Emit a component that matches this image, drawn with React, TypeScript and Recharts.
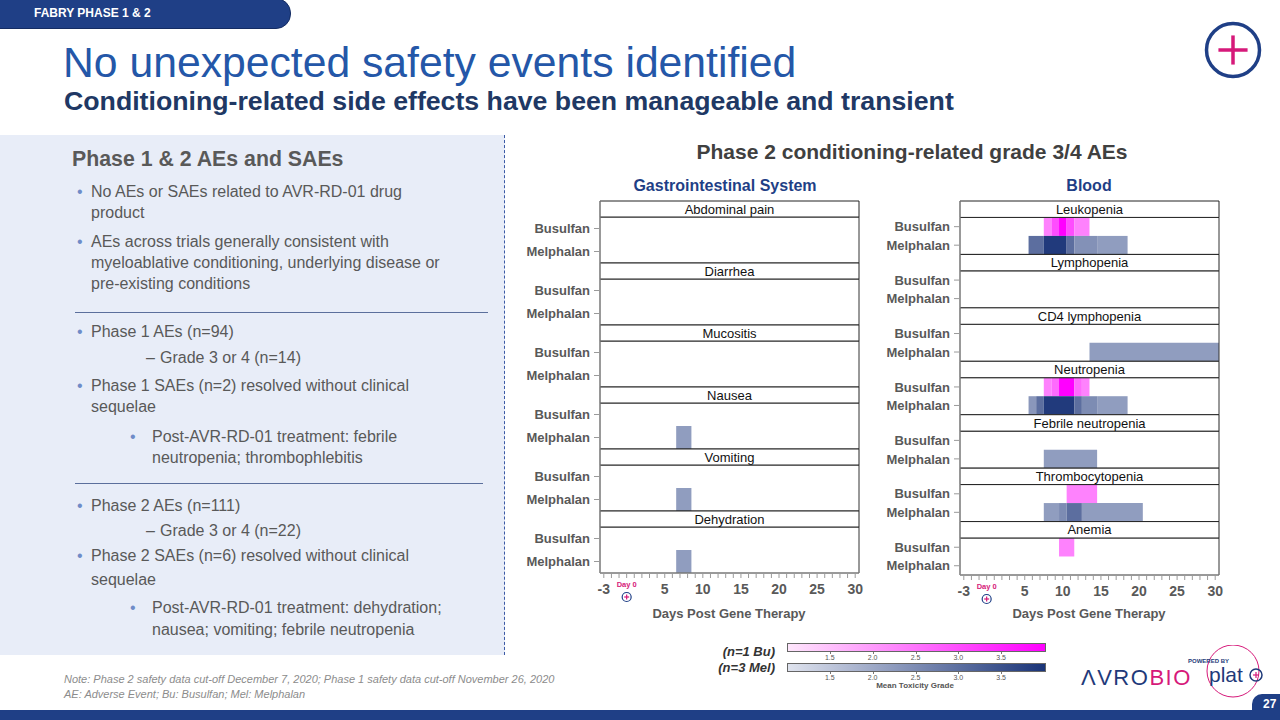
import React from 'react';
import { ComposedChart, XAxis, YAxis, ReferenceArea, Scatter } from 'recharts';

const FONT = 'Arial, "Liberation Sans", sans-serif';
const GRAY = '#595959';
const NAVY = '#1f3f86';
const PINK = '#d6197a';

// ---------- data ----------
const regimens = ['Busulfan', 'Melphalan'];
const giEvents = ['Abdominal pain', 'Diarrhea', 'Mucositis', 'Nausea', 'Vomiting', 'Dehydration'];
const bloodEvents = ['Leukopenia', 'Lymphopenia', 'CD4 lymphopenia', 'Neutropenia', 'Febrile neutropenia', 'Thrombocytopenia', 'Anemia'];
const dayTickLabels = [-3, 5, 10, 15, 20, 25, 30];
const legendTicks = [1.5, 2.0, 2.5, 3.0, 3.5];

// [adverse event, regimen, first day, last day, mean toxicity grade]
type Cell = [string, string, number, number, number];
const giCells: Cell[] = [
  ['Nausea', 'Melphalan', 7, 8, 2.2],
  ['Vomiting', 'Melphalan', 7, 8, 2.2],
  ['Dehydration', 'Melphalan', 7, 8, 2.2],
];
const bloodCells: Cell[] = [
  ['Leukopenia', 'Busulfan', 8, 8, 2.3],
  ['Leukopenia', 'Busulfan', 9, 9, 3.0],
  ['Leukopenia', 'Busulfan', 10, 10, 4.0],
  ['Leukopenia', 'Busulfan', 11, 11, 3.0],
  ['Leukopenia', 'Busulfan', 12, 13, 2.3],
  ['Leukopenia', 'Melphalan', 6, 7, 3.0],
  ['Leukopenia', 'Melphalan', 8, 10, 3.9],
  ['Leukopenia', 'Melphalan', 11, 11, 3.0],
  ['Leukopenia', 'Melphalan', 12, 14, 2.4],
  ['Leukopenia', 'Melphalan', 15, 18, 2.2],
  ['CD4 lymphopenia', 'Melphalan', 14, 30, 2.2],
  ['Neutropenia', 'Busulfan', 8, 8, 2.3],
  ['Neutropenia', 'Busulfan', 9, 9, 2.6],
  ['Neutropenia', 'Busulfan', 10, 11, 4.0],
  ['Neutropenia', 'Busulfan', 12, 12, 2.6],
  ['Neutropenia', 'Busulfan', 13, 13, 2.3],
  ['Neutropenia', 'Melphalan', 6, 6, 2.3],
  ['Neutropenia', 'Melphalan', 7, 7, 3.0],
  ['Neutropenia', 'Melphalan', 8, 11, 3.9],
  ['Neutropenia', 'Melphalan', 12, 12, 3.0],
  ['Neutropenia', 'Melphalan', 13, 14, 2.5],
  ['Neutropenia', 'Melphalan', 15, 18, 2.2],
  ['Febrile neutropenia', 'Melphalan', 8, 14, 2.2],
  ['Thrombocytopenia', 'Busulfan', 11, 14, 2.3],
  ['Thrombocytopenia', 'Melphalan', 8, 9, 2.2],
  ['Thrombocytopenia', 'Melphalan', 10, 10, 2.5],
  ['Thrombocytopenia', 'Melphalan', 11, 12, 3.0],
  ['Thrombocytopenia', 'Melphalan', 13, 20, 2.2],
  ['Anemia', 'Busulfan', 10, 11, 2.3],
];

// ---------- colour scale ----------
const BU_LOW = '#fde6fb';
const BU_HIGH = '#ff00ff';
const MEL_LOW = '#dfe3ee';
const MEL_HIGH = '#1a3478';

function hex(c: string) {
  return [1, 3, 5].map((i) => parseInt(c.slice(i, i + 2), 16));
}
function lerp(a: string, b: string, t: number) {
  const A = hex(a);
  const B = hex(b);
  const r = A.map((v, i) => Math.round(v + (B[i] - v) * t));
  return `rgb(${r[0]},${r[1]},${r[2]})`;
}
function gradeColor(regimen: string, g: number) {
  const t = Math.max(0, Math.min(1, (g - 1) / 3));
  return regimen === 'Busulfan' ? lerp(BU_LOW, BU_HIGH, t) : lerp(MEL_LOW, MEL_HIGH, t);
}

// ---------- x ticks ----------
const allDays: number[] = [];
for (let d = -3; d <= 30; d++) allDays.push(d);

function CircledPlus({ cx, cy, r, sw }: { cx: number; cy: number; r: number; sw: number }) {
  const a = r * 0.55;
  return (
    <g>
      <circle cx={cx} cy={cy} r={r} fill="#fff" stroke={NAVY} strokeWidth={sw} />
      <line x1={cx - a} y1={cy} x2={cx + a} y2={cy} stroke={PINK} strokeWidth={sw} />
      <line x1={cx} y1={cy - a} x2={cx} y2={cy + a} stroke={PINK} strokeWidth={sw} />
    </g>
  );
}

function DayTick(props: any) {
  const { x, payload } = props;
  const v = payload.value;
  const baseY = props.y;
  if (v === 0) {
    return (
      <g>
        <text x={x} y={baseY + 7} textAnchor="middle" fontSize={7.5} fontWeight="bold" fill={PINK} fontFamily={FONT}>
          Day 0
        </text>
        <CircledPlus cx={x} cy={baseY + 17} r={4.5} sw={1.2} />
      </g>
    );
  }
  if (!dayTickLabels.includes(v)) return <g />;
  return (
    <text x={x} y={baseY + 14} textAnchor="middle" fontSize={14} fontWeight="bold" fill={GRAY} fontFamily={FONT}>
      {v}
    </text>
  );
}

// ---------- panel ----------
function Panel({
  events,
  cells,
  headerUnits,
  height,
  left,
  top,
}: {
  events: string[];
  cells: Cell[];
  headerUnits: number;
  height: number;
  left: number;
  top: number;
}) {
  const F = headerUnits + 2;
  const total = events.length * F;
  const yTicks: number[] = [];
  events.forEach((_, i) => {
    yTicks.push(i * F + headerUnits + 0.5, i * F + headerUnits + 1.5);
  });
  const rowTop = (ev: string, reg: string) => events.indexOf(ev) * F + headerUnits + regimens.indexOf(reg);
  const points = cells.map(([ev, reg, d1, d2, g]) => ({ x: (d1 + d2) / 2, y: rowTop(ev, reg) + 0.5, g }));
  return (
    <div style={{ position: 'absolute', left, top }}>
      <ComposedChart width={380} height={height} margin={{ top: 6, right: 21, left: 0, bottom: 0 }}>
        <XAxis
          type="number"
          dataKey="x"
          domain={[-3.5, 30.5]}
          ticks={allDays}
          interval={0}
          allowDataOverflow
          tickSize={5}
          tick={<DayTick />}
          axisLine={{ stroke: '#9a9a9a' }}
          tickLine={{ stroke: '#9a9a9a' }}
          height={50}
        />
        <YAxis
          type="number"
          dataKey="y"
          domain={[0, total]}
          reversed
          allowDataOverflow
          ticks={yTicks}
          interval={0}
          width={100}
          tickSize={6}
          tickMargin={4}
          tickFormatter={(_v: any, i: number) => regimens[i % 2]}
          tick={{ fill: GRAY, fontSize: 13, fontWeight: 'bold', fontFamily: FONT }}
          axisLine={{ stroke: '#9a9a9a' }}
          tickLine={{ stroke: '#9a9a9a' }}
        />
        {cells.map(([ev, reg, d1, d2, g], k) => (
          <ReferenceArea
            key={'c' + k}
            x1={d1 - 0.5}
            x2={d2 + 0.5}
            y1={rowTop(ev, reg)}
            y2={rowTop(ev, reg) + 1}
            fill={gradeColor(reg, g)}
            fillOpacity={1}
            stroke="none"
            ifOverflow="visible"
          />
        ))}
        {events.map((ev, i) => (
          <ReferenceArea
            key={'b' + i}
            x1={-3.5}
            x2={30.5}
            y1={i * F + headerUnits}
            y2={(i + 1) * F}
            fill="none"
            fillOpacity={0}
            stroke="#333"
            strokeWidth={1}
            ifOverflow="visible"
          />
        ))}
        {events.map((ev, i) => (
          <ReferenceArea
            key={'h' + i}
            x1={-3.5}
            x2={30.5}
            y1={i * F}
            y2={i * F + headerUnits}
            fill="#fff"
            fillOpacity={1}
            stroke="#222"
            strokeWidth={1}
            ifOverflow="visible"
            label={{ value: ev, position: 'center', fill: '#111', fontSize: 13, fontFamily: FONT }}
          />
        ))}
        <Scatter data={points} isAnimationActive={false} shape={() => <g />} />
      </ComposedChart>
    </div>
  );
}

// ---------- text helpers ----------
function T({
  x,
  y,
  children,
  size = 16,
  bold = false,
  italic = false,
  color = GRAY,
  anchor = 'left',
}: any) {
  const lh = size * 1.3;
  const style: React.CSSProperties = {
    position: 'absolute',
    top: y - lh / 2,
    fontSize: size,
    lineHeight: lh + 'px',
    fontWeight: bold ? 'bold' : 'normal',
    fontStyle: italic ? 'italic' : 'normal',
    color,
    whiteSpace: 'nowrap',
    fontFamily: FONT,
  };
  if (anchor === 'left') style.left = x;
  else if (anchor === 'right') style.right = 1280 - x;
  else {
    style.left = x - 400;
    style.width = 800;
    style.textAlign = 'center';
  }
  return <div style={style}>{children}</div>;
}

const BULLET = '#6f8cc8';

function Bullet({ x, y }: { x: number; y: number }) {
  return <T x={x} y={y} size={16} color={BULLET}>•</T>;
}

function ColorBar({ y, low, high }: { y: number; low: string; high: string }) {
  const x0 = 787;
  const w = 257;
  return (
    <>
      <div
        style={{
          position: 'absolute',
          left: x0,
          top: y,
          width: w,
          height: 7,
          background: `linear-gradient(to right, ${low}, ${high})`,
          border: '1px solid #666',
        }}
      />
      {legendTicks.map((v) => {
        const x = x0 + ((v - 1) / 3) * w;
        return (
          <React.Fragment key={v}>
            <div style={{ position: 'absolute', left: x, top: y + 9, width: 1, height: 2, background: '#777' }} />
            <div
              style={{
                position: 'absolute',
                left: x - 20,
                width: 40,
                top: y + 10,
                textAlign: 'center',
                fontSize: 7,
                lineHeight: '9px',
                color: '#555',
                fontFamily: FONT,
              }}
            >
              {v.toFixed(1)}
            </div>
          </React.Fragment>
        );
      })}
    </>
  );
}

export default function App() {
  return (
    <div
      style={{
        position: 'absolute',
        left: 0,
        top: 0,
        width: 1280,
        height: 720,
        overflow: 'hidden',
        background: '#fff',
        fontFamily: FONT,
      }}
    >
      {/* top banner */}
      <div
        style={{
          position: 'absolute',
          left: -20,
          top: -2,
          width: 309,
          height: 29,
          background: NAVY,
          borderRadius: '0 15px 15px 0',
          border: '1px solid #142c63',
        }}
      />
      <T x={34} y={14} size={12} bold color="#fff">FABRY PHASE 1 &amp; 2</T>

      {/* titles */}
      <T x={63} y={63} size={42.7} color="#2457a8">No unexpected safety events identified</T>
      <T x={64} y={101} size={26.7} bold color="#203864">
        Conditioning-related side effects have been manageable and transient
      </T>

      {/* top-right icon */}
      <svg style={{ position: 'absolute', left: 1200, top: 17 }} width={66} height={66}>
        <CircledPlus cx={33} cy={33} r={26.5} sw={3.5} />
      </svg>

      {/* left panel */}
      <div style={{ position: 'absolute', left: 0, top: 135, width: 505, height: 520, background: '#e8edf8' }} />
      <div
        style={{
          position: 'absolute',
          left: 504,
          top: 135,
          height: 520,
          width: 0,
          borderLeft: '1.5px dashed #3b5aa6',
        }}
      />
      <T x={72} y={160} size={21.3} bold>Phase 1 &amp; 2 AEs and SAEs</T>
      <Bullet x={77} y={192} />
      <T x={91} y={192}>No AEs or SAEs related to AVR-RD-01 drug</T>
      <T x={91} y={213}>product</T>
      <Bullet x={77} y={242} />
      <T x={91} y={242}>AEs across trials generally consistent with</T>
      <T x={91} y={263}>myeloablative conditioning, underlying disease or</T>
      <T x={91} y={284}>pre-existing conditions</T>
      <div style={{ position: 'absolute', left: 75, top: 312, width: 413, height: 1, background: '#5b6f9c' }} />
      <Bullet x={77} y={332} />
      <T x={91} y={332}>Phase 1 AEs (n=94)</T>
      <T x={146} y={358}>–</T>
      <T x={160} y={358}>Grade 3 or 4 (n=14)</T>
      <Bullet x={77} y={386} />
      <T x={91} y={386}>Phase 1 SAEs (n=2) resolved without clinical</T>
      <T x={91} y={407}>sequelae</T>
      <Bullet x={130} y={437} />
      <T x={152} y={437}>Post-AVR-RD-01 treatment: febrile</T>
      <T x={152} y={458}>neutropenia; thrombophlebitis</T>
      <div style={{ position: 'absolute', left: 75, top: 483, width: 408, height: 1, background: '#5b6f9c' }} />
      <Bullet x={77} y={506} />
      <T x={91} y={506}>Phase 2 AEs (n=111)</T>
      <T x={146} y={531}>–</T>
      <T x={160} y={531}>Grade 3 or 4 (n=22)</T>
      <Bullet x={77} y={556} />
      <T x={91} y={556}>Phase 2 SAEs (n=6) resolved without clinical</T>
      <T x={91} y={580}>sequelae</T>
      <Bullet x={130} y={608} />
      <T x={152} y={608}>Post-AVR-RD-01 treatment: dehydration;</T>
      <T x={152} y={630}>nausea; vomiting; febrile neutropenia</T>

      {/* chart titles */}
      <T x={912} y={152} size={21} bold color="#404040" anchor="center">
        Phase 2 conditioning-related grade 3/4 AEs
      </T>
      <T x={725} y={186} size={16} bold color={NAVY} anchor="center">Gastrointestinal System</T>
      <T x={1089} y={186} size={16} bold color={NAVY} anchor="center">Blood</T>

      <Panel events={giEvents} cells={giCells} headerUnits={16 / 23} height={428} left={500} top={195} />
      <Panel events={bloodEvents} cells={bloodCells} headerUnits={16.4 / 18.5} height={430} left={860} top={195} />

      <T x={729} y={614} size={13} bold anchor="center">Days Post Gene Therapy</T>
      <T x={1089} y={614} size={13} bold anchor="center">Days Post Gene Therapy</T>

      {/* legend */}
      <T x={775} y={652} size={13} bold italic color="#333" anchor="right">(n=1 Bu)</T>
      <T x={775} y={668} size={13} bold italic color="#333" anchor="right">(n=3 Mel)</T>
      <ColorBar y={643} low={BU_LOW} high={BU_HIGH} />
      <ColorBar y={663} low={MEL_LOW} high={MEL_HIGH} />
      <T x={915} y={686} size={8} bold color="#555" anchor="center">Mean Toxicity Grade</T>

      {/* footer */}
      <T x={64} y={679} size={11} italic color="#8c8c8c">
        Note: Phase 2 safety data cut-off December 7, 2020; Phase 1 safety data cut-off November 26, 2020
      </T>
      <T x={64} y={694} size={11} italic color="#8c8c8c">AE: Adverse Event; Bu: Busulfan; Mel: Melphalan</T>

      {/* logo */}
      <div
        style={{
          position: 'absolute',
          left: 1081,
          top: 665,
          fontSize: 22,
          lineHeight: '26px',
          letterSpacing: 1.5,
          fontFamily: FONT,
          whiteSpace: 'nowrap',
        }}
      >
        <span style={{ color: '#1f3a7a' }}>ΛVRO</span>
        <span style={{ color: PINK }}>BIO</span>
      </div>
      <svg style={{ position: 'absolute', left: 1195, top: 645 }} width={75} height={55}>
        <circle cx={38} cy={26} r={26} fill="none" stroke={PINK} strokeWidth={1} />
        <text x={14} y={37} fontSize={21} fill="#1f3a7a" fontFamily={FONT}>plat</text>
        <circle cx={61} cy={30} r={6} fill="none" stroke="#1f3a7a" strokeWidth={1.5} />
        <line x1={58} y1={30} x2={64} y2={30} stroke={PINK} strokeWidth={1.2} />
        <line x1={61} y1={27} x2={61} y2={33} stroke={PINK} strokeWidth={1.2} />
      </svg>
      <div
        style={{
          position: 'absolute',
          left: 1188,
          top: 657,
          fontSize: 6,
          lineHeight: '8px',
          fontWeight: 'bold',
          color: '#1f3a7a',
          fontFamily: FONT,
          whiteSpace: 'nowrap',
        }}
      >
        POWERED BY
      </div>

      {/* bottom bar */}
      <div style={{ position: 'absolute', left: 0, top: 710, width: 1280, height: 10, background: NAVY }} />
      <div
        style={{
          position: 'absolute',
          left: 1252,
          top: 694,
          width: 40,
          height: 30,
          background: NAVY,
          borderRadius: '10px 0 0 0',
        }}
      />
      <T x={1263} y={705} size={12} bold color="#fff">27</T>
    </div>
  );
}
